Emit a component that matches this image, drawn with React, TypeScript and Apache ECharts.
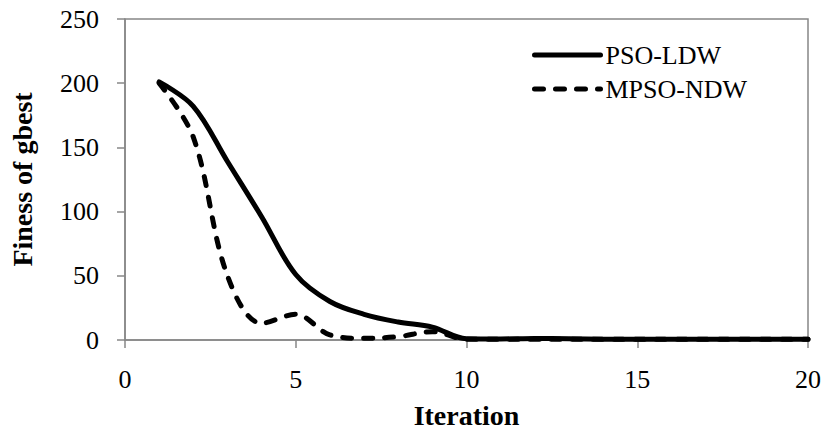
import React, { useEffect, useRef } from "react";
import * as echarts from "echarts";

const iterations = [1, 2, 3, 4, 5, 6, 7, 8, 9, 10, 11, 12, 13, 14, 15, 16, 17, 18, 19, 20];
const psoLdw = [201, 182, 139, 96, 51, 30, 20, 14, 10, 1, 0.8, 1.2, 1, 0.6, 0.5, 0.5, 0.5, 0.5, 0.5, 0.5];
const mpsoNdw = [200, 158, 50, 13, 20, 4, 1.3, 2.6, 6.5, 0.5, 0.5, 0.5, 0.5, 0.5, 0.5, 0.5, 0.5, 0.5, 0.5, 0.5];
const seriesNames = ["PSO-LDW", "MPSO-NDW"];
const xTitle = "Iteration";
const yTitle = "Finess of gbest";

const FONT = "'Liberation Serif', 'Times New Roman', serif";
const AXIS_COLOR = "#878787";

export default function App() {
  const ref = useRef<HTMLDivElement>(null);
  useEffect(() => {
    if (!ref.current) return;
    const chart = echarts.init(ref.current, null, { renderer: "svg" });
    chart.setOption({
      animation: false,
      backgroundColor: "#ffffff",
      grid: {
        left: 125,
        right: 18,
        top: 19,
        bottom: 92,
        show: true,
        borderColor: AXIS_COLOR,
        borderWidth: 1.5,
      },
      legend: {
        orient: "vertical",
        left: 527,
        top: 37,
        itemWidth: 66,
        itemHeight: 6,
        itemGap: 8,
        itemStyle: { opacity: 0 },
        lineStyle: { width: 5 },
        textStyle: { fontFamily: FONT, fontSize: 26, color: "#000" },
        data: seriesNames,
      },
      xAxis: {
        type: "value",
        min: 0,
        max: 20,
        interval: 5,
        name: xTitle,
        nameLocation: "middle",
        nameGap: 61,
        nameTextStyle: { fontFamily: FONT, fontSize: 28, fontWeight: "bold", color: "#000" },
        axisLine: { show: true, lineStyle: { color: AXIS_COLOR, width: 1.5 } },
        axisTick: { show: true, length: 8, lineStyle: { color: AXIS_COLOR, width: 1.5 } },
        axisLabel: { fontFamily: FONT, fontSize: 26, color: "#000", margin: 26 },
        splitLine: { show: false },
      },
      yAxis: {
        type: "value",
        min: 0,
        max: 250,
        interval: 50,
        name: yTitle,
        nameLocation: "middle",
        nameRotate: 90,
        nameGap: 89,
        nameTextStyle: { fontFamily: FONT, fontSize: 28, fontWeight: "bold", color: "#000" },
        axisLine: { show: true, lineStyle: { color: AXIS_COLOR, width: 1.5 } },
        axisTick: { show: true, length: 8, lineStyle: { color: AXIS_COLOR, width: 1.5 } },
        axisLabel: { fontFamily: FONT, fontSize: 26, color: "#000", margin: 26 },
        splitLine: { show: false },
      },
      series: [
        {
          name: seriesNames[0],
          type: "line",
          smooth: 0.35,
          symbol: "none",
          data: iterations.map((x, i) => [x, psoLdw[i]]),
          lineStyle: { color: "#000", width: 5, type: "solid", cap: "round", join: "round" },
          itemStyle: { color: "#000" },
        },
        {
          name: seriesNames[1],
          type: "line",
          smooth: 0.35,
          symbol: "none",
          data: iterations.map((x, i) => [x, mpsoNdw[i]]),
          lineStyle: { color: "#000", width: 5, type: [9, 12], cap: "round", join: "round" },
          itemStyle: { color: "#000" },
        },
      ],
    });
    return () => chart.dispose();
  }, []);
  return (
    <div
      ref={ref}
      style={{ position: "fixed", left: 0, top: 0, width: 826, height: 434, background: "#fff" }}
    />
  );
}
